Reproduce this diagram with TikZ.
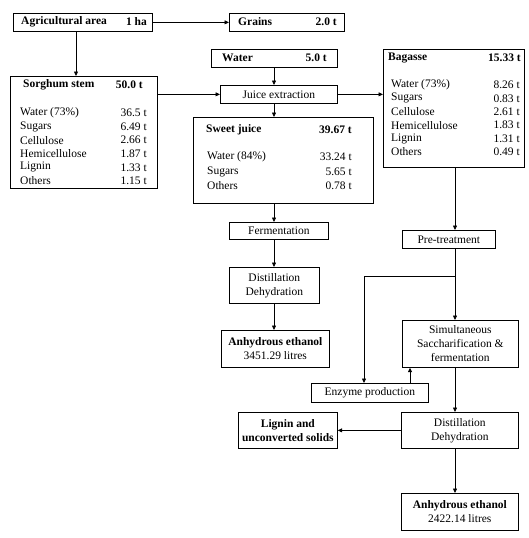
\documentclass[tikz,border=0pt]{standalone}
\usepackage{fontspec}
\setmainfont{Liberation Serif}
\usetikzlibrary{arrows.meta}
\begin{document}
\begin{tikzpicture}[x=1pt,y=-1pt,
  box/.style={draw, line width=0.7pt, inner sep=0pt, anchor=north west, align=center, font=\fontsize{11.5}{14}\selectfont},
  arr/.style={draw, line width=0.7pt, -{Triangle[length=4.5pt,width=4pt]}},
  lab/.style={anchor=west, inner sep=0pt, font=\fontsize{11.5}{14}\selectfont},
  val/.style={anchor=east, inner sep=0pt, font=\fontsize{11.5}{14}\selectfont},
  hl/.style={lab, font=\fontsize{11.5}{14}\selectfont\bfseries},
  hv/.style={val, font=\fontsize{11.5}{14}\selectfont\bfseries}]
\useasboundingbox (0,0) rectangle (529,538);
% boxes
\node[box, minimum width=139pt, minimum height=18pt] (agri) at (13,13) {};
\node[hl] (agrit) at (21,22) {Agricultural area};
\node[hv] (agriv) at (147,22) {1 ha};
\node[box, minimum width=115pt, minimum height=18pt] (grains) at (229,13) {};
\node[hl] (grainst) at (238,22) {Grains};
\node[hv] (grainsv) at (337,22) {2.0 t};
\node[box, minimum width=147pt, minimum height=112pt] (sorg) at (10,76) {};
\node[hl] (sorgt) at (23,85) {Sorghum stem};
\node[hv] (sorgv) at (143,85) {50.0 t};
\foreach \l/\v [count=\i from 0] in {Water (73\%)/36.5 t, Sugars/6.49 t, Cellulose/2.66 t, Hemicellulose/1.87 t, Lignin/1.33 t, Others/1.15 t}{
  \node[lab] (sl\i) at (20,113+13.6*\i) {\l};
  \node[val] (sv\i) at (147,113+13.6*\i) {\v};
}
\node[box, minimum width=126pt, minimum height=18pt] (water) at (211,49) {};
\node[hl] (watert) at (222,58) {Water};
\node[hv] (waterv) at (327,58) {5.0 t};
\node[box, minimum width=117pt, minimum height=18pt] (juice) at (220,85) {Juice extraction};
\node[box, minimum width=180pt, minimum height=86pt] (sweet) at (193,117) {};
\node[hl] (sweett) at (206,130) {Sweet juice};
\node[hv] (sweetv) at (352,130) {39.67 t};
\foreach \l/\v [count=\i from 0] in {Water (84\%)/33.24 t, Sugars/5.65 t, Others/0.78 t}{
  \node[lab] (jl\i) at (207,157+14.5*\i) {\l};
  \node[val] (jv\i) at (352,157+14.5*\i) {\v};
}
\node[box, minimum width=141pt, minimum height=118pt] (bag) at (383,49) {};
\node[hl] (bagt) at (388,58) {Bagasse};
\node[hv] (bagv) at (521,58) {15.33 t};
\foreach \l/\v [count=\i from 0] in {Water (73\%)/8.26 t, Sugars/0.83 t, Cellulose/2.61 t, Hemicellulose/1.83 t, Lignin/1.31 t, Others/0.49 t}{
  \node[lab] (bl\i) at (391,85+13.4*\i) {\l};
  \node[val] (bv\i) at (520,85+13.4*\i) {\v};
}
\node[box, minimum width=99pt, minimum height=17pt] (ferm) at (229,222) {Fermentation};
\node[box, minimum width=90pt, minimum height=36pt] (dist1) at (229,267) {Distillation\\Dehydration};
\node[box, minimum width=108pt, minimum height=37pt] (anh1) at (221,330) {\textbf{Anhydrous ethanol}\\3451.29 litres};
\node[box, minimum width=93pt, minimum height=18pt] (pre) at (402,230) {Pre-treatment};
\node[box, minimum width=116pt, minimum height=47pt] (ssf) at (402,320) {Simultaneous\\Saccharification \&\\fermentation};
\node[box, minimum width=117pt, minimum height=19pt] (enz) at (311,383) {Enzyme production};
\node[box, minimum width=117pt, minimum height=36pt] (dist2) at (401,412) {Distillation\\Dehydration};
\node[box, minimum width=99pt, minimum height=36pt] (lig) at (238,412) {\textbf{Lignin and}\\\textbf{unconverted solids}};
\node[box, minimum width=117pt, minimum height=37pt] (anh2) at (401,493) {\textbf{Anhydrous ethanol}\\2422.14 litres};
% guide coordinates
\coordinate (xa) at (76,0);
\coordinate (xj) at (274,0);
\coordinate (xb) at (455,0);
\coordinate (xe) at (364,0);
\coordinate (xs) at (410,0);
\coordinate (br) at (455,276);
% connectors
\draw[arr] (agri.east) -- (grains.west);
\draw[arr] (agri.south -| xa) -- (sorg.north -| xa);
\draw[arr] (sorg.east |- juice.west) -- (juice.west);
\draw[arr] (water.south -| xj) -- (juice.north -| xj);
\draw[arr] (juice.east) -- (bag.west |- juice.east);
\draw[arr] (juice.south -| xj) -- (sweet.north -| xj);
\draw[arr] (sweet.south -| xj) -- (ferm.north -| xj);
\draw[arr] (ferm.south -| xj) -- (dist1.north -| xj);
\draw[arr] (dist1.south -| xj) -- (anh1.north -| xj);
\draw[arr] (bag.south -| xb) -- (pre.north -| xb);
\draw[arr] (pre.south -| xb) -- (ssf.north -| xb);
\draw[arr] (br) -| (enz.north -| xe);
\draw[arr] (enz.north -| xs) -- (ssf.south -| xs);
\draw[arr] (ssf.south -| xb) -- (dist2.north -| xb);
\draw[arr] (dist2.west) -- (lig.east);
\draw[arr] (dist2.south -| xb) -- (anh2.north -| xb);
\end{tikzpicture}
\end{document}
